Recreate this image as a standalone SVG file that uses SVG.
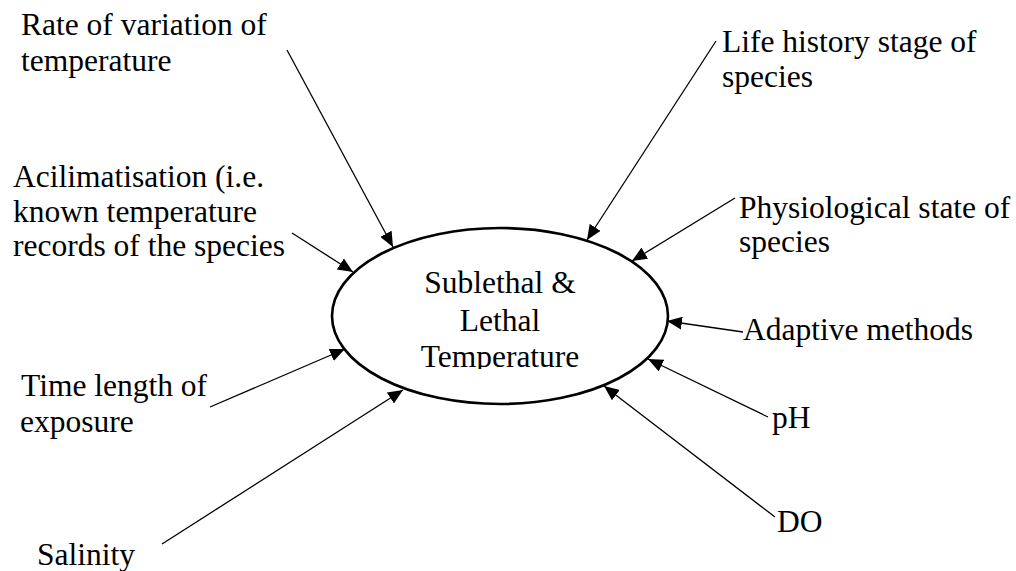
<svg xmlns="http://www.w3.org/2000/svg" width="1016" height="571" viewBox="0 0 1016 571">
<style>
text{font-family:'Liberation Serif','Times New Roman',serif;font-size:31.5px;fill:#000}
.c{stroke:#000;stroke-width:1.3;fill:none;marker-end:url(#ah)}
</style>
<defs>
<marker id="ah" markerUnits="userSpaceOnUse" markerWidth="16" markerHeight="13" refX="15" refY="6.5" orient="auto">
<path d="M0,0 L15,6.5 L0,13 z" fill="#000"/>
</marker>
<clipPath id="clipc"><rect x="380" y="260" width="240" height="109"/></clipPath>
</defs>
<rect width="1016" height="571" fill="#fff"/>
<g id="connectors">
<line class="c" x1="287" y1="50" x2="393" y2="247"/>
<line class="c" x1="292" y1="233" x2="353" y2="272"/>
<line class="c" x1="716" y1="41" x2="587" y2="240"/>
<line class="c" x1="735" y1="198" x2="632" y2="261"/>
<line class="c" x1="743" y1="332" x2="667" y2="321"/>
<line class="c" x1="768" y1="417" x2="648" y2="359"/>
<line class="c" x1="775" y1="517" x2="604" y2="386"/>
<line class="c" x1="210" y1="407" x2="345" y2="349"/>
<line class="c" x1="162" y1="544" x2="403" y2="390"/>
</g>
<g id="center">
<ellipse cx="500" cy="316" rx="168" ry="88" fill="#fff" stroke="#000" stroke-width="2.6"/>
<text text-anchor="middle" clip-path="url(#clipc)"><tspan x="500" y="293">Sublethal &amp;</tspan><tspan x="500" y="331">Lethal</tspan><tspan x="500" y="367">Temperature</tspan></text>
</g>
<g id="rate"><text><tspan x="21" y="35">Rate of variation of</tspan><tspan x="21" y="71">temperature</tspan></text></g>
<g id="acclim"><text><tspan x="13" y="187">Acilimatisation (i.e.</tspan><tspan x="13" y="222">known temperature</tspan><tspan x="13" y="256">records of the species</tspan></text></g>
<g id="life"><text><tspan x="722" y="52">Life history stage of</tspan><tspan x="722" y="87">species</tspan></text></g>
<g id="physio"><text><tspan x="739" y="218">Physiological state of</tspan><tspan x="739" y="252">species</tspan></text></g>
<g id="adaptive"><text x="743" y="340">Adaptive methods</text></g>
<g id="ph"><text x="772" y="428">pH</text></g>
<g id="do"><text x="777" y="532">DO</text></g>
<g id="time"><text><tspan x="21" y="396">Time length of</tspan><tspan x="20" y="432">exposure</tspan></text></g>
<g id="salinity"><text x="37" y="565">Salinity</text></g>
</svg>
